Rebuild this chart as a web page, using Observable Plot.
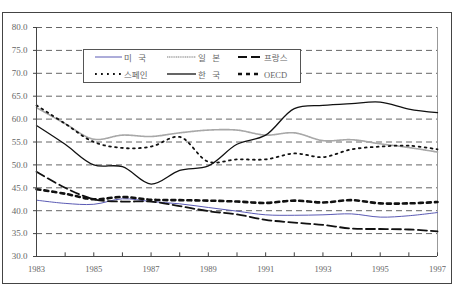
<!DOCTYPE html>
<html><head><meta charset="utf-8">
<script src="https://cdn.jsdelivr.net/npm/d3@7"></script>
<script src="https://cdn.jsdelivr.net/npm/@observablehq/plot@0.6"></script>
<style>
body{margin:0;background:#fff;}
#wrap{position:relative;width:460px;height:287px;}
#frame{position:absolute;left:2px;top:12px;width:450px;height:272px;border:1.5px solid #444;box-sizing:border-box;pointer-events:none;}
#legend{position:absolute;left:83px;top:49px;}
#wrap svg text{font-family:'Liberation Serif','Noto Sans CJK KR',serif !important;}
</style></head>
<body><div id="wrap"><div id="frame"></div></div>
<script>
const years = [1983,1984,1985,1986,1987,1988,1989,1990,1991,1992,1993,1994,1995,1996,1997];
const labelYears = [1983,1985,1987,1989,1991,1993,1995,1997];
const yTicks = [30,35,40,45,50,55,60,65,70,75,80];
const names = ["미 국","일 본","프랑스","스페인","한 국","OECD"];
const usa    = [42.3,41.6,41.4,42.6,42.0,41.5,40.7,39.9,39.1,39.0,39.1,39.3,38.6,38.9,39.6];
const japan  = [62.5,59.0,55.6,56.5,56.2,57.0,57.6,57.6,56.5,57.0,55.3,55.5,54.6,53.8,52.8];
const france = [48.5,45.0,42.5,42.0,42.0,41.0,39.9,39.2,38.0,37.4,36.9,36.1,36.0,35.9,35.5];
const spain  = [63.0,59.0,55.0,53.7,54.0,56.1,50.7,51.2,51.2,52.5,51.7,53.4,54.0,54.2,53.4];
const korea  = [58.6,54.5,50.0,49.6,45.8,48.8,49.8,54.5,56.5,62.3,63.0,63.4,63.7,62.2,61.4];
const oecd   = [44.7,43.7,42.5,43.0,42.4,42.3,42.2,42.0,41.7,42.2,41.8,42.3,41.6,41.6,41.9];

const styles = [
  {stroke:"#5a5ab4", strokeWidth:1, dash:null},
  {stroke:"#a8a8a8", strokeWidth:1.6, dash:"1.2 0.6"},
  {stroke:"#111", strokeWidth:1.8, dash:"9 4"},
  {stroke:"#111", strokeWidth:1.8, dash:"1.8 4.2"},
  {stroke:"#111", strokeWidth:1.3, dash:null},
  {stroke:"#111", strokeWidth:2.6, dash:"4 4"}
];
const seriesVals = [usa,japan,france,spain,korea,oecd];
const serif = "'Liberation Serif',serif";

const lineMarks = seriesVals.map((vals,i)=>{
  const data = years.map((yr,j)=>({year:yr, value:vals[j]}));
  const s = styles[i];
  return Plot.line(data,{x:"year",y:"value",curve:"catmull-rom",stroke:s.stroke,strokeWidth:s.strokeWidth,strokeDasharray:s.dash||undefined});
});

const chart = Plot.plot({
  width:460, height:287,
  marginLeft:36, marginRight:23, marginTop:27, marginBottom:31,
  x:{domain:[1983,1997]},
  y:{domain:[30,80]},
  style:{fontSize:"9px", fontFamily:serif, color:"#555", background:"transparent"},
  marks:[
    Plot.gridY(yTicks.filter(v=>v>30),{stroke:"#666",strokeOpacity:1,strokeDasharray:"6 4",strokeWidth:1}),
    Plot.ruleX([1997],{stroke:"#999"}),
    ...lineMarks,
    Plot.ruleY([30],{stroke:"#444"}),
    Plot.ruleX([1983],{stroke:"#444"}),
    Plot.ruleX(years,{x:d=>d,y1:30,y2:30.8,stroke:"#444"}),
    Plot.axisY(yTicks,{tickFormat:d=>d.toFixed(1),tickSize:3,tickPadding:6,stroke:"#444",fill:"#666",fontFamily:serif,fontSize:9,label:null}),
    Plot.axisX(labelYears,{tickFormat:d=>String(d),tickSize:0,tickPadding:9,fontSize:8.5,fill:"#666",fontFamily:serif,label:null})
  ]
});
const wrap = document.getElementById("wrap");
chart.style.position="absolute";chart.style.left="0";chart.style.top="0";
wrap.insertBefore(chart, wrap.firstChild);

// legend
const ns="http://www.w3.org/2000/svg";
const lg=document.createElementNS(ns,"svg");
lg.setAttribute("id","legend");lg.setAttribute("width","218");lg.setAttribute("height","34");
lg.innerHTML='<rect x="0.5" y="0.5" width="217" height="33" fill="#fff" stroke="#555" stroke-width="1"/>';
const cols=[[12,40],[84,114],[155,180]];
const rows=[8,25];
names.forEach((n,i)=>{
  const r=Math.floor(i/3), c=i%3, s=styles[i];
  const [x1,tx]=cols[c]; const y=rows[r];
  const ln=document.createElementNS(ns,"line");
  ln.setAttribute("x1",x1);ln.setAttribute("x2",tx-1);ln.setAttribute("y1",y);ln.setAttribute("y2",y);
  ln.setAttribute("stroke",s.stroke);ln.setAttribute("stroke-width",s.strokeWidth);
  if(s.dash) ln.setAttribute("stroke-dasharray",s.dash);
  lg.appendChild(ln);
  const t=document.createElementNS(ns,"text");
  t.setAttribute("x",tx+1);t.setAttribute("y",y+3.5);t.setAttribute("font-size","8.5");
  t.setAttribute("fill","#666");
  t.setAttribute("style","white-space:pre");
  t.textContent=n.replace(" ","\u00a0\u00a0\u00a0"); lg.appendChild(t);
});
wrap.appendChild(lg);
</script></body></html>
